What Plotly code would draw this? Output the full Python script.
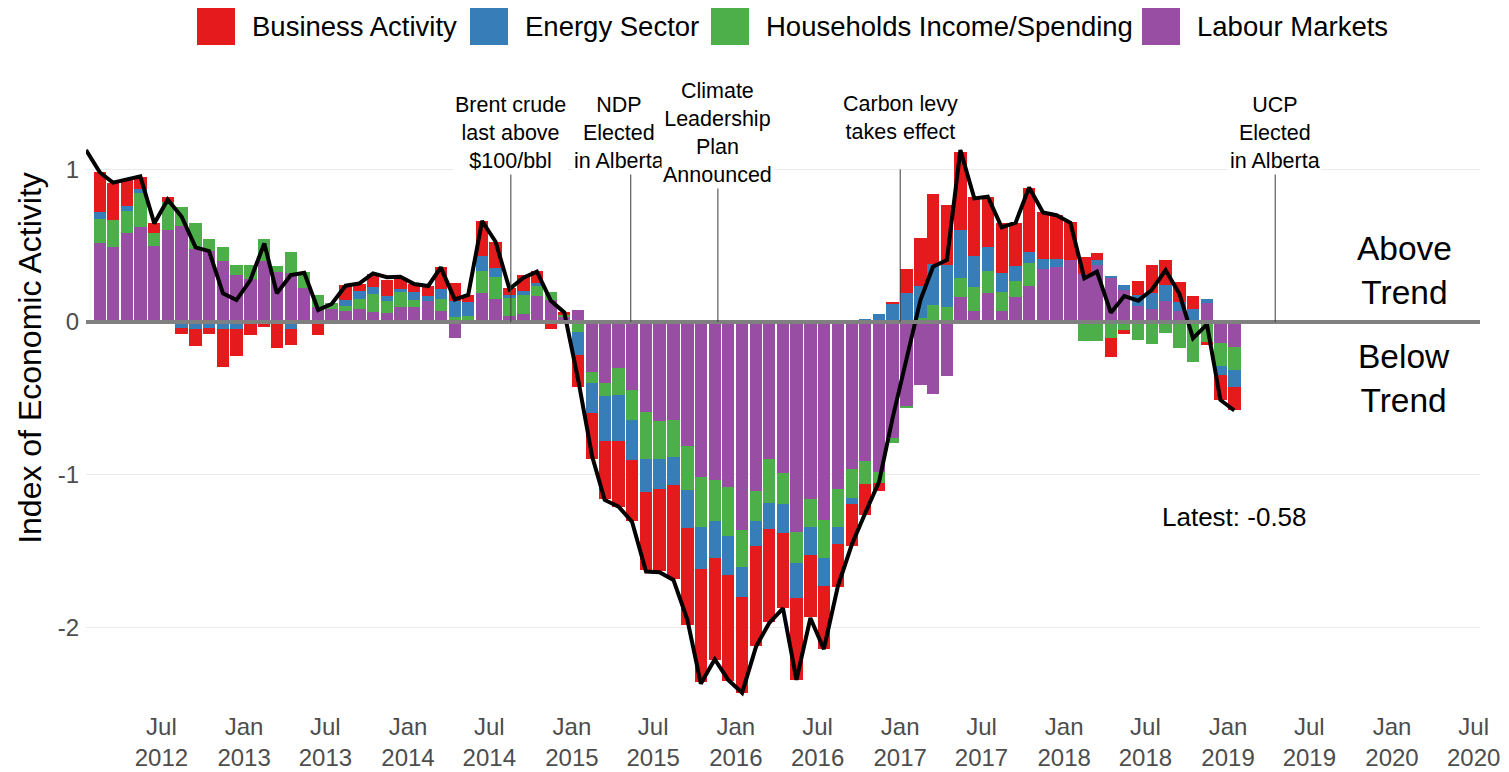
import pandas as pd
import plotly.graph_objects as go

# ---------------- data ----------------
series_names = ["Labour Markets", "Households Income/Spending", "Energy Sector", "Business Activity"]
series_colors = ["#984EA3", "#4DAF4A", "#377EB8", "#E41A1C"]

months = pd.date_range("2012-01-01", periods=85, freq="MS") + pd.Timedelta(days=14)

labour = [None,
          0.515, 0.489, 0.585, 0.62, 0.5, 0.603, 0.629, 0.478, 0.465, 0.4, 0.306,
          0.282, 0.402, 0.328, 0.319, 0.225, 0.1, 0.085, 0.072, 0.087, 0.068, 0.061, 0.096,
          0.096, 0.138, 0.074, -0.105, 0.015, 0.19, 0.15, 0.041, 0.052, 0.172, 0.144, 0.03,
          0.076, -0.325, -0.397, -0.303, -0.445, -0.587, -0.648, -0.642, -0.812, -1.017, -1.035, -1.083,
          -1.362, -1.11, -0.9, -0.991, -1.378, -1.162, -1.297, -1.094, -0.965, -0.91, -0.985, -0.762,
          -0.552, -0.415, -0.469, -0.352, 0.166, 0.072, 0.188, 0.072, 0.166, 0.238, 0.347, 0.363,
          0.406, 0.312, 0.373, 0.286, 0.21, 0.107, 0.085, 0.14, 0.07, 0.0, 0.124, -0.138,
          -0.164]

households = [None,
              0.157, 0.181, 0.142, 0.223, 0.083, 0.186, 0.127, 0.172, 0.076, 0.09, 0.066,
              0.09, 0.142, 0.04, 0.142, 0.103, 0.076, 0.037, 0.035, 0.066, 0.118, 0.079, 0.098,
              0.05, 0.0, 0.076, 0.033, 0.026, 0.146, 0.148, 0.114, 0.127, 0.066, 0.05, 0.02,
              -0.063, -0.076, -0.085, -0.175, -0.2, -0.312, -0.251, -0.24, -0.288, -0.328, -0.269, -0.317,
              -0.245, -0.197, -0.288, -0.2, -0.203, -0.183, -0.247, -0.251, -0.19, -0.153, -0.068, -0.028,
              -0.013, 0.024, 0.111, 0.1, 0.124, 0.155, 0.146, 0.127, 0.105, 0.151, 0.0, 0.0,
              0.0, -0.127, -0.122, -0.105, -0.055, -0.116, -0.142, -0.072, -0.17, -0.264, -0.133, -0.153,
              -0.153]

energy = [None,
          0.05, 0.0, 0.035, 0.026, 0.0, 0.0, -0.04, -0.044, -0.04, -0.044, -0.044,
          0.0, 0.0, 0.0, -0.044, 0.0, 0.0, 0.0, 0.037, 0.048, 0.044, 0.033, 0.022,
          0.048, 0.035, 0.066, 0.103, 0.087, 0.094, 0.059, 0.02, 0.026, 0.02, 0.0, 0.0,
          -0.153, -0.197, -0.297, -0.301, -0.258, -0.216, -0.194, -0.186, -0.253, -0.275, -0.245, -0.26,
          -0.192, -0.164, -0.17, -0.192, -0.229, -0.181, -0.183, -0.109, -0.037, 0.017, 0.052, 0.122,
          0.192, 0.214, 0.269, 0.273, 0.312, 0.207, 0.159, 0.124, 0.096, 0.072, 0.066, 0.05,
          0.0, 0.0, 0.033, 0.015, 0.033, 0.07, 0.105, 0.105, 0.06, 0.085, 0.026, -0.055,
          -0.109]

business = [None,
            0.258, 0.243, 0.175, 0.083, 0.063, 0.028, -0.04, -0.116, -0.037, -0.25, -0.177,
            -0.087, -0.033, -0.17, -0.105, 0.0, -0.087, 0.0, 0.098, 0.05, 0.085, 0.105, 0.066,
            0.057, 0.061, 0.142, 0.12, 0.05, 0.23, 0.166, 0.046, 0.1, 0.076, -0.046, 0.013,
            -0.212, -0.301, -0.382, -0.434, -0.404, -0.513, -0.541, -0.618, -0.631, -0.742, -0.666, -0.69,
            -0.633, -0.655, -0.611, -0.491, -0.535, -0.408, -0.415, -0.284, -0.275, -0.2, -0.055, 0.007,
            0.153, 0.31, 0.459, 0.393, 0.513, 0.382, 0.328, 0.323, 0.279, 0.419, 0.306, 0.288,
            0.251, 0.111, 0.044, -0.127, -0.022, 0.092, 0.186, 0.164, 0.134, 0.083, -0.015, -0.164,
            -0.153]

index_total = [1.127, 0.98, 0.913, 0.937, 0.955, 0.646, 0.803, 0.69, 0.489, 0.465, 0.188, 0.144,
               0.275, 0.515, 0.188, 0.308, 0.323, 0.079, 0.118, 0.238, 0.253, 0.319, 0.293, 0.297,
               0.249, 0.236, 0.358, 0.148, 0.177, 0.662, 0.526, 0.216, 0.29, 0.33, 0.14, 0.063,
               -0.38, -0.88, -1.166, -1.21, -1.31, -1.635, -1.64, -1.69, -1.95, -2.37, -2.21, -2.345,
               -2.43, -2.127, -1.974, -1.876, -2.345, -1.94, -2.144, -1.734, -1.46, -1.253, -1.046, -0.63,
               -0.24, 0.144, 0.362, 0.406, 1.127, 0.81, 0.821, 0.62, 0.651, 0.882, 0.718, 0.70,
               0.65, 0.286, 0.33, 0.061, 0.17, 0.14, 0.21, 0.34, 0.183, -0.107, -0.015, -0.511,
               -0.58]

event_dates = ["2014-08-18", "2015-05-12", "2015-11-22", "2017-01-01", "2019-04-16"]
event_label_x = ["2014-08-18", "2015-04-15", "2015-11-22", "2017-01-01", "2019-04-16"]
event_label_y = [1.24, 1.24, 1.24, 1.34, 1.24]
event_labels = ["Brent crude<br>last above<br>$100/bbl", "NDP<br>Elected<br>in Alberta",
                "Climate<br>Leadership<br>Plan<br>Announced", "Carbon levy<br>takes effect",
                "UCP<br>Elected<br>in Alberta"]

tick_dates = pd.date_range("2012-07-01", "2020-07-01", freq="6MS")
tick_labels = ["Jul<br>2012", "Jan<br>2013", "Jul<br>2013", "Jan<br>2014", "Jul<br>2014", "Jan<br>2015",
               "Jul<br>2015", "Jan<br>2016", "Jul<br>2016", "Jan<br>2017", "Jul<br>2017", "Jan<br>2018",
               "Jul<br>2018", "Jan<br>2019", "Jul<br>2019", "Jan<br>2020", "Jul<br>2020"]
y_ticks = [-2, -1, 0, 1]
y_tick_labels = ["-2", "-1", "0", "1"]

# ---------------- layout geometry ----------------
OFF = 8                      # page body margin
W, H = 1509 - OFF, 772 - OFF
ML, MR, MT, MB = 86 - OFF, W - (1480 - OFF), 0, H - (708 - OFF)
PX_PER_UNIT = 152.6
ZERO_PX = 322 - OFF
y_range = [(ZERO_PX - (H - MB)) / PX_PER_UNIT, (ZERO_PX - MT) / PX_PER_UNIT]
FONT = "Arial, Liberation Sans, sans-serif"


def px_x(page_px):
    return (page_px - OFF - ML) / (W - ML - MR)


def px_y(page_py):
    return (H - MB - (page_py - OFF)) / (H - MB - MT)


fig = go.Figure()
comp = [labour, households, energy, business]
bar_width_ms = 27.5 * 24 * 3600 * 1000
for name, color, vals in zip(series_names, series_colors, comp):
    fig.add_trace(go.Bar(x=months, y=vals, name=name, marker_color=color,
                         marker_line_width=0, width=bar_width_ms, showlegend=False))

fig.add_trace(go.Scatter(x=months, y=index_total, mode="lines", name="Index",
                         line=dict(color="black", width=4), showlegend=False))

shapes = []
shapes.append(dict(type="line", xref="paper", x0=0, x1=1, yref="y", y0=0, y1=0,
                   line=dict(color="#808080", width=4), layer="above"))
for d in event_dates:
    shapes.append(dict(type="line", xref="x", x0=d, x1=d, yref="y", y0=0, y1=1,
                       line=dict(color="#3a3a3a", width=1), layer="above"))

annotations = []
for lx, ly, txt in zip(event_label_x, event_label_y, event_labels):
    annotations.append(dict(x=lx, y=ly, xref="x", yref="y", text=txt, showarrow=False,
                            font=dict(family=FONT, size=21.5, color="black"),
                            xanchor="center", yanchor="middle", bgcolor="white", borderpad=1))

annotations.append(dict(x=months[-1], y=index_total[-1] - 0.7, xref="x", yref="y",
                        text=f"Latest: {index_total[-1]:.2f}", showarrow=False,
                        font=dict(family=FONT, size=26, color="black")))
annotations.append(dict(x="2020-01-28", y=0.34, xref="x", yref="y", text="Above<br>Trend",
                        showarrow=False, font=dict(family=FONT, size=33.5, color="black")))
annotations.append(dict(x="2020-01-28", y=-0.367, xref="x", yref="y", text="Below<br>Trend",
                        showarrow=False, font=dict(family=FONT, size=33.5, color="black")))

legend_order = [3, 2, 1, 0]
legend_square_px = [197, 470, 711, 1142]
for idx, sx in zip(legend_order, legend_square_px):
    shapes.append(dict(type="rect", xref="paper", yref="paper",
                       x0=px_x(sx), x1=px_x(sx + 38), y0=px_y(45), y1=px_y(8),
                       fillcolor=series_colors[idx], line=dict(width=0)))
    annotations.append(dict(x=px_x(sx + 53), y=px_y(27), xref="paper", yref="paper",
                            text=series_names[idx], showarrow=False, xanchor="left", yanchor="middle",
                            font=dict(family=FONT, size=27.5, color="black")))

fig.update_layout(
    width=W, height=H,
    margin=dict(l=ML, r=MR, t=MT, b=MB, autoexpand=False),
    barmode="relative", bargap=0,
    plot_bgcolor="white", paper_bgcolor="white",
    shapes=shapes, annotations=annotations,
    font=dict(family=FONT),
    xaxis=dict(type="date", range=["2012-01-15", "2020-07-15"], tickvals=tick_dates,
               ticktext=tick_labels, showgrid=False, zeroline=False, showline=False, ticks="",
               ticklabelstandoff=2, automargin=False,
               tickfont=dict(family=FONT, size=24, color="#4D4D4D")),
    yaxis=dict(range=y_range, tickvals=y_ticks, ticktext=y_tick_labels, showgrid=True,
               gridcolor="#EBEBEB", gridwidth=1.3, zeroline=False, showline=False, ticks="",
               ticklabelstandoff=6, automargin=False,
               tickfont=dict(family=FONT, size=24, color="#4D4D4D"),
               title=dict(text="Index of Economic Activity",
                          font=dict(family=FONT, size=32, color="black"), standoff=6)),
)

fig.write_html("out.html")
